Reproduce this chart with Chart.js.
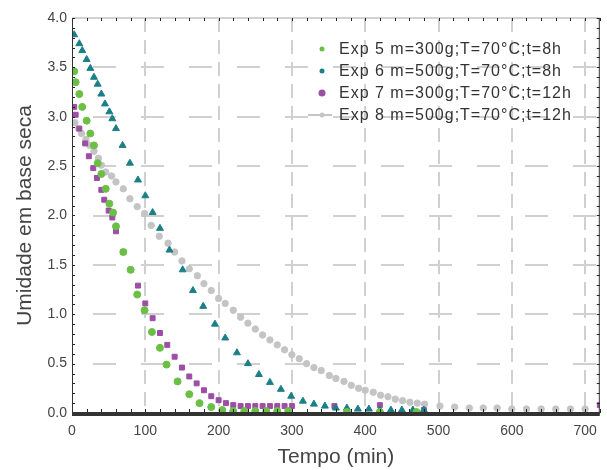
<!DOCTYPE html>
<html>
<head>
<meta charset="utf-8">
<script src="https://cdn.jsdelivr.net/npm/chart.js@4.4.0/dist/chart.umd.min.js"></script>
<style>
  html, body { margin: 0; padding: 0; background: #fff; }
  canvas { display: block; }
</style>
</head>
<body>
<canvas id="dryingChart" width="607" height="470"></canvas>
<script>
// Series labels
const seriesLabels = [
    'Exp 5 m=300g;T=70°C;t=8h',
    'Exp 6 m=500g;T=70°C;t=8h',
    'Exp 7 m=300g;T=70°C;t=12h',
    'Exp 8 m=500g;T=70°C;t=12h'
];

// Exp 5 (green)
const exp5Time = [3, 5, 10, 14, 20, 25, 30, 35, 40, 46, 51, 56, 60, 70, 80, 89, 99, 109, 120, 129, 144, 160, 174, 190, 205, 220, 235, 250, 265, 280, 295, 375, 420, 470];
const exp5Moist = [3.46, 3.35, 3.23, 3.10, 2.96, 2.83, 2.71, 2.53, 2.42, 2.27, 2.12, 2.03, 1.89, 1.63, 1.45, 1.20, 1.04, 0.82, 0.66, 0.49, 0.32, 0.19, 0.10, 0.06, 0.03, 0.02, 0.02, 0.02, 0.02, 0.02, 0.02, 0.01, 0.01, 0.01];

// Exp 6 (teal)
const exp6Time = [3, 10, 14, 20, 25, 30, 35, 40, 45, 51, 55, 60, 69, 79, 90, 100, 110, 120, 133, 151, 165, 179, 195, 209, 225, 240, 255, 270, 285, 299, 315, 330, 345, 360, 375, 390, 405, 420, 435, 450, 465, 480];
const exp6Moist = [3.83, 3.74, 3.67, 3.58, 3.49, 3.40, 3.33, 3.23, 3.13, 3.05, 2.98, 2.88, 2.71, 2.53, 2.36, 2.20, 2.03, 1.87, 1.65, 1.45, 1.24, 1.08, 0.90, 0.76, 0.61, 0.50, 0.39, 0.31, 0.24, 0.17, 0.12, 0.09, 0.07, 0.05, 0.05, 0.04, 0.04, 0.03, 0.03, 0.03, 0.03, 0.03];

// Exp 7 (purple)
const exp7Time = [3, 5, 10, 18, 23, 29, 34, 40, 44, 50, 55, 60, 70, 80, 90, 100, 110, 120, 130, 140, 150, 160, 170, 180, 190, 200, 210, 220, 230, 240, 250, 260, 270, 280, 290, 300, 358, 420, 480, 720];
const exp7Moist = [3.10, 3.02, 2.88, 2.73, 2.60, 2.48, 2.38, 2.26, 2.16, 2.05, 1.98, 1.84, 1.63, 1.45, 1.29, 1.11, 0.96, 0.81, 0.69, 0.57, 0.46, 0.37, 0.30, 0.23, 0.17, 0.13, 0.10, 0.08, 0.07, 0.07, 0.07, 0.07, 0.07, 0.07, 0.07, 0.07, 0.07, 0.08, 0.03, 0.08];

// Exp 8 (grey)
const exp8Time = [4, 9, 13, 19, 24, 30, 36, 40, 46, 54, 60, 70, 79, 89, 99, 108, 119, 131, 140, 150, 160, 171, 180, 190, 200, 209, 220, 230, 240, 250, 260, 270, 280, 290, 300, 310, 320, 330, 340, 351, 360, 371, 381, 391, 400, 411, 421, 431, 441, 451, 461, 471, 481, 502, 522, 542, 561, 580, 600, 620, 640, 660, 680, 700];
const exp8Moist = [2.94, 2.88, 2.83, 2.77, 2.71, 2.65, 2.58, 2.51, 2.44, 2.40, 2.34, 2.27, 2.17, 2.09, 2.02, 1.90, 1.79, 1.72, 1.63, 1.54, 1.46, 1.39, 1.31, 1.24, 1.16, 1.11, 1.04, 0.97, 0.91, 0.85, 0.79, 0.74, 0.69, 0.64, 0.59, 0.55, 0.50, 0.46, 0.43, 0.38, 0.35, 0.32, 0.28, 0.25, 0.23, 0.21, 0.18, 0.165, 0.14, 0.125, 0.11, 0.10, 0.09, 0.07, 0.06, 0.05, 0.05, 0.05, 0.04, 0.04, 0.04, 0.04, 0.04, 0.04];

// Axis ticks
const xTicks = [0, 100, 200, 300, 400, 500, 600, 700];
const yTicks = [0.0, 0.5, 1.0, 1.5, 2.0, 2.5, 3.0, 3.5, 4.0];

const colors = ['#6cbf45', '#1b7f86', '#9b4ea4', '#c4c4c4'];

// Pair up x/y arrays for a scatter dataset
function toPoints(xs, ys) {
    return xs.map((x, i) => ({ x: x, y: ys[i] }));
}

// Frame, minor ticks and in-plot legend
const framePlugin = {
    id: 'frame',
    afterDatasetsDraw(chart) {
        const { ctx, chartArea: a, scales: { x, y } } = chart;
        ctx.save();
        // top border (light)
        ctx.strokeStyle = '#d2d2d2';
        ctx.lineWidth = 2;
        ctx.beginPath();
        ctx.moveTo(a.left, a.top);
        ctx.lineTo(a.right, a.top);
        ctx.stroke();

        // minor ticks
        ctx.strokeStyle = '#222';
        ctx.lineWidth = 1;
        ctx.beginPath();
        for (let v = 0; v <= 4.0001; v += 0.1) {
            const py = Math.round(y.getPixelForValue(v)) + 0.5;
            ctx.moveTo(a.left, py); ctx.lineTo(a.left + 3, py);
            ctx.moveTo(a.right, py); ctx.lineTo(a.right - 3, py);
        }
        for (let v = 0; v <= 720; v += 20) {
            const px = Math.round(x.getPixelForValue(v)) + 0.5;
            ctx.moveTo(px, a.top); ctx.lineTo(px, a.top + 3);
            ctx.moveTo(px, a.bottom); ctx.lineTo(px, a.bottom - 4);
        }
        ctx.stroke();

        // left and right axis lines
        ctx.strokeStyle = '#333';
        ctx.lineWidth = 1;
        ctx.beginPath();
        ctx.moveTo(a.left + 0.5, a.top); ctx.lineTo(a.left + 0.5, a.bottom);
        ctx.moveTo(a.right - 0.5, a.top); ctx.lineTo(a.right - 0.5, a.bottom);
        ctx.stroke();
        // heavy bottom axis
        ctx.fillStyle = '#333';
        ctx.fillRect(a.left, a.bottom - 1, a.right - a.left, 4);

        // legend
        const lx = 322, ly0 = 49, dy = 22;
        ctx.font = '16px "Liberation Sans", Arial, sans-serif';
        ctx.letterSpacing = '1px';
        ctx.textBaseline = 'middle';
        chart.data.datasets.forEach((ds, i) => {
            const cy = ly0 + i * dy;
            ctx.fillStyle = ds.backgroundColor;
            ctx.strokeStyle = ds.backgroundColor;
            if (i === 3) {
                ctx.lineWidth = 2;
                ctx.beginPath();
                ctx.moveTo(lx - 14, cy); ctx.lineTo(lx + 10, cy);
                ctx.stroke();
            }
            ctx.beginPath();
            ctx.arc(lx, cy, i === 2 ? 3.5 : 2.5, 0, Math.PI * 2);
            ctx.fill();
            ctx.fillStyle = '#333';
            ctx.fillText(ds.label, lx + 17, cy + 1);
        });
        ctx.restore();
    }
};

const ctx = document.getElementById('dryingChart').getContext('2d');
new Chart(ctx, {
    type: 'scatter',
    data: {
        datasets: [
            { label: seriesLabels[0], data: toPoints(exp5Time, exp5Moist), backgroundColor: colors[0], borderColor: colors[0], pointStyle: 'circle', pointRadius: 3.5 },
            { label: seriesLabels[1], data: toPoints(exp6Time, exp6Moist), backgroundColor: colors[1], borderColor: colors[1], pointStyle: 'triangle', pointRadius: 4 },
            { label: seriesLabels[2], data: toPoints(exp7Time, exp7Moist), backgroundColor: colors[2], borderColor: colors[2], pointStyle: 'rect', pointRadius: 3.5 },
            { label: seriesLabels[3], data: toPoints(exp8Time, exp8Moist), backgroundColor: colors[3], borderColor: colors[3], pointStyle: 'circle', pointRadius: 3.2 }
        ]
    },
    options: {
        responsive: false,
        animation: false,
        devicePixelRatio: 1,
        layout: { padding: { left: 0, right: 7, top: 18, bottom: 0 } },
        plugins: {
            legend: { display: false },
            tooltip: { enabled: false }
        },
        scales: {
            x: {
                type: 'linear',
                min: 0,
                max: 720,
                afterFit: s => { s.height = 57; },
                afterBuildTicks: s => { s.ticks = xTicks.map(v => ({ value: v })); },
                ticks: {
                    autoSkip: false,
                    maxRotation: 0,
                    padding: 10,
                    color: '#444',
                    font: { size: 14, family: '"Liberation Sans", Arial, sans-serif' },
                    callback: v => String(v)
                },
                grid: {
                    color: ctx => (ctx.tick && ctx.tick.value === 0) ? 'rgba(0,0,0,0)' : '#d0d0d0',
                    lineWidth: 2,
                    drawTicks: false
                },
                border: { display: false, dash: [14, 8] },
                title: {
                    display: true,
                    text: 'Tempo (min)',
                    color: '#444',
                    font: { size: 21, family: '"Liberation Sans", Arial, sans-serif' },
                    padding: { top: 0, bottom: 0 }
                }
            },
            y: {
                type: 'linear',
                min: 0,
                max: 4,
                afterFit: s => { s.width = 72; },
                afterBuildTicks: s => { s.ticks = yTicks.map(v => ({ value: v })); },
                ticks: {
                    autoSkip: false,
                    padding: 5,
                    color: '#444',
                    font: { size: 14, family: '"Liberation Sans", Arial, sans-serif' },
                    callback: v => Number(v).toFixed(1)
                },
                grid: {
                    color: ctx => (ctx.tick && (ctx.tick.value === 0 || ctx.tick.value === 4)) ? 'rgba(0,0,0,0)' : '#d0d0d0',
                    lineWidth: 2,
                    drawTicks: false
                },
                border: { display: false, dash: [23, 25], dashOffset: 27 },
                title: {
                    display: true,
                    text: 'Umidade em base seca',
                    color: '#444',
                    font: { size: 21, family: '"Liberation Sans", Arial, sans-serif' },
                    padding: { top: 13, bottom: 0 }
                }
            }
        }
    },
    plugins: [framePlugin]
});
</script>
</body>
</html>
